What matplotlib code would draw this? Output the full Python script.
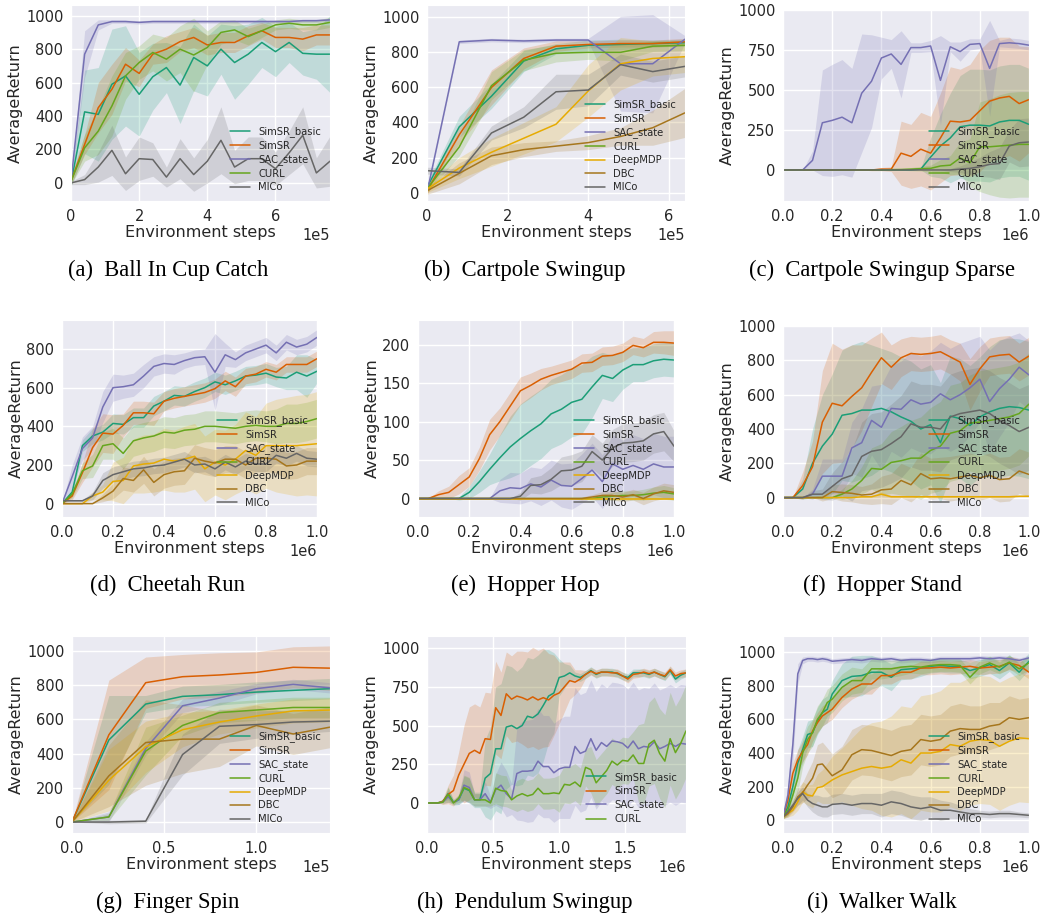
import numpy as np
import matplotlib
matplotlib.use('Agg')
import matplotlib.pyplot as plt
import seaborn as sns

methods = ['SimSR_basic', 'SimSR', 'SAC_state', 'CURL', 'DeepMDP', 'DBC', 'MICo']
palette = ['#1b9e77', '#d95f02', '#7570b3', '#66a61e', '#e6ab02', '#a6761d', '#666666']
colors = dict(zip(methods, palette))

# ---- (a) Ball In Cup Catch, x in 1e5 ----
ball_steps = np.linspace(0, 7.6, 20)
ball_mean = {
    'SimSR_basic': [0, 425, 410, 590, 640, 530, 635, 690, 585, 750, 700, 800, 720, 770, 840, 785, 840, 775, 770, 770],
    'SimSR': [10, 230, 450, 560, 710, 655, 770, 800, 845, 870, 825, 840, 840, 880, 910, 870, 870, 860, 885, 885],
    'SAC_state': [10, 770, 945, 965, 965, 960, 965, 965, 965, 965, 965, 965, 965, 965, 965, 965, 965, 970, 970, 975],
    'CURL': [10, 210, 310, 460, 640, 720, 780, 740, 800, 765, 810, 900, 915, 875, 910, 945, 955, 945, 945, 960],
    'MICo': [0, 20, 95, 195, 55, 145, 140, 35, 145, 50, 130, 255, 95, 145, 145, 85, 180, 285, 60, 130],
}
ball_sd = {
    'SimSR_basic': [20, 250, 280, 330, 300, 250, 200, 150, 230, 200, 180, 150, 220, 180, 150, 150, 120, 130, 150, 230],
    'SimSR': [20, 60, 150, 150, 100, 80, 60, 80, 60, 60, 60, 60, 60, 60, 50, 60, 60, 70, 60, 60],
    'SAC_state': [10, 140, 30, 10, 10, 10, 10, 10, 10, 10, 10, 10, 10, 10, 10, 10, 10, 10, 10, 10],
    'CURL': [20, 80, 140, 180, 140, 100, 110, 130, 140, 220, 100, 70, 60, 50, 40, 30, 30, 30, 30, 30],
    'MICo': [10, 30, 90, 150, 100, 130, 100, 60, 120, 100, 130, 200, 100, 130, 130, 100, 130, 170, 90, 150],
}

# ---- (b) Cartpole Swingup, x in 1e5 ----
cart_steps = np.linspace(0, 6.4, 9)
cart_mean = {
    'SimSR_basic': [30, 375, 550, 750, 820, 840, 845, 850, 855],
    'SimSR': [10, 330, 600, 765, 835, 845, 850, 850, 860],
    'SAC_state': [0, 860, 870, 865, 870, 870, 735, 735, 875],
    'CURL': [20, 260, 610, 755, 795, 800, 800, 835, 840],
    'DeepMDP': [20, 140, 230, 310, 390, 580, 735, 765, 775],
    'DBC': [10, 110, 210, 245, 265, 285, 320, 370, 455],
    'MICo': [125, 115, 340, 430, 575, 585, 730, 690, 720],
}
cart_sd = {
    'SimSR_basic': [20, 60, 70, 60, 30, 30, 30, 20, 20],
    'SimSR': [20, 50, 100, 60, 30, 20, 20, 20, 20],
    'SAC_state': [10, 10, 10, 10, 10, 10, 270, 280, 20],
    'CURL': [20, 50, 80, 60, 50, 40, 50, 30, 30],
    'DeepMDP': [20, 60, 80, 90, 100, 150, 150, 100, 90],
    'DBC': [20, 60, 50, 40, 30, 40, 50, 100, 140],
    'MICo': [20, 20, 40, 60, 100, 90, 60, 60, 60],
}

# ---- (c) Cartpole Swingup Sparse, x in 1e6 ----
sparse_steps = np.linspace(0, 1.0, 26)
sparse_mean = {
    'SimSR_basic': [0, 0, 0, 0, 0, 0, 0, 0, 0, 0, 0, 0, 0, 0, 5, 80, 150, 200, 270, 280, 280, 275, 300, 310, 310, 285],
    'SimSR': [0, 0, 0, 0, 0, 0, 0, 0, 0, 0, 5, 5, 105, 85, 130, 105, 200, 305, 300, 310, 370, 430, 450, 460, 415, 440],
    'SAC_state': [0, 0, 0, 60, 295, 310, 330, 295, 480, 555, 700, 725, 660, 765, 765, 775, 560, 770, 740, 785, 790, 635, 790, 795, 790, 780],
    'CURL': [0, 0, 0, 0, 0, 0, 0, 0, 0, 0, 0, 2, 3, 5, 8, 10, 25, 30, 75, 45, 145, 145, 150, 155, 160, 160],
    'MICo': [0, 0, 0, 0, 0, 0, 0, 0, 0, 0, 0, 0, 0, 0, 0, 0, 0, 0, 5, 10, 20, 35, 40, 150, 170, 175],
}
sparse_sd = {
    'SimSR_basic': [0, 0, 0, 0, 0, 0, 0, 0, 0, 0, 0, 0, 0, 0, 5, 120, 200, 280, 320, 350, 350, 350, 350, 350, 350, 350],
    'SimSR': [0, 0, 0, 0, 0, 0, 0, 0, 0, 5, 10, 15, 200, 200, 230, 230, 280, 340, 330, 350, 380, 380, 380, 370, 360, 330],
    'SAC_state': [0, 0, 0, 60, 330, 350, 360, 340, 370, 290, 130, 90, 210, 30, 30, 35, 280, 30, 60, 35, 30, 300, 20, 30, 30, 30],
    'CURL': [0, 0, 0, 0, 0, 0, 0, 0, 0, 0, 0, 5, 5, 10, 15, 20, 40, 60, 100, 150, 280, 300, 320, 330, 330, 330],
    'MICo': [0, 0, 0, 0, 0, 0, 0, 0, 0, 0, 0, 0, 0, 0, 0, 0, 0, 10, 20, 40, 60, 80, 100, 100, 150, 150],
}

# ---- (d) Cheetah Run, x in 1e6 ----
cheetah_steps = np.linspace(0, 1.0, 26)
cheetah_mean = {
    'SimSR_basic': [0, 60, 300, 350, 370, 415, 410, 445, 445, 505, 530, 560, 555, 580, 600, 630, 615, 635, 660, 665, 675, 655, 650, 680, 660, 685],
    'SimSR': [0, 40, 160, 290, 365, 360, 405, 470, 470, 465, 530, 545, 555, 565, 575, 595, 635, 605, 660, 670, 695, 680, 720, 720, 720, 750],
    'SAC_state': [0, 140, 285, 340, 500, 600, 605, 615, 660, 710, 725, 720, 740, 755, 760, 680, 770, 745, 780, 800, 820, 780, 835, 810, 825, 860],
    'CURL': [0, 50, 170, 195, 300, 310, 260, 325, 340, 350, 370, 365, 380, 385, 400, 400, 395, 390, 400, 405, 400, 400, 415, 415, 425, 440],
    'DeepMDP': [0, 0, 0, 40, 60, 115, 120, 195, 205, 210, 230, 220, 230, 245, 180, 215, 200, 230, 275, 250, 300, 300, 300, 300, 305, 310],
    'DBC': [0, 0, 0, 0, 30, 65, 130, 120, 175, 110, 150, 165, 170, 235, 220, 210, 230, 230, 200, 235, 235, 230, 195, 200, 220, 220],
    'MICo': [15, 15, 15, 40, 120, 150, 165, 180, 185, 195, 200, 215, 230, 200, 205, 180, 215, 190, 220, 205, 205, 250, 235, 260, 235, 230],
}
cheetah_sd = {
    'SimSR_basic': [0, 20, 30, 40, 40, 50, 50, 50, 50, 50, 50, 50, 50, 50, 50, 50, 50, 50, 50, 50, 50, 50, 60, 90, 110, 60],
    'SimSR': [0, 20, 50, 100, 100, 100, 60, 60, 60, 60, 50, 50, 50, 50, 50, 50, 50, 50, 40, 40, 40, 40, 40, 40, 40, 40],
    'SAC_state': [0, 60, 60, 60, 80, 70, 60, 60, 60, 50, 50, 50, 40, 40, 40, 200, 60, 40, 40, 40, 40, 40, 40, 40, 40, 40],
    'CURL': [0, 20, 40, 60, 70, 80, 80, 80, 80, 80, 80, 80, 80, 80, 80, 80, 80, 80, 80, 80, 80, 90, 100, 100, 100, 100],
    'DeepMDP': [0, 0, 0, 20, 40, 100, 120, 140, 150, 150, 160, 160, 170, 170, 170, 170, 180, 180, 200, 200, 220, 240, 250, 260, 260, 270],
    'DBC': [0, 0, 0, 0, 20, 40, 60, 60, 70, 70, 70, 70, 70, 70, 70, 70, 70, 70, 70, 70, 70, 70, 70, 70, 70, 70],
    'MICo': [5, 5, 5, 20, 40, 40, 40, 40, 40, 40, 40, 40, 40, 40, 40, 40, 40, 40, 40, 40, 40, 40, 40, 40, 40, 40],
}

# ---- (e) Hopper Hop, x in 1e6 ----
hop_steps = np.linspace(0, 1.0, 26)
hop_mean = {
    'SimSR_basic': [0, 0, 0, 0, 0, 8, 22, 38, 53, 67, 78, 88, 97, 110, 116, 125, 129, 145, 160, 156, 167, 174, 174, 179, 181, 180],
    'SimSR': [0, 0, 5, 8, 18, 28, 52, 83, 100, 120, 140, 147, 155, 160, 164, 168, 176, 177, 185, 186, 190, 199, 196, 203, 203, 202],
    'SAC_state': [0, 0, 0, 0, 0, 0, 0, 0, 10, 14, 13, 19, 15, 24, 17, 16, 26, 37, 22, 45, 38, 43, 38, 45, 41, 41],
    'CURL': [0, 0, 0, 0, 0, 0, 0, 0, 0, 0, 0, 0, 0, 0, 0, 0, 0, 0, 2, 3, 4, 4, 5, 7, 8, 6],
    'DeepMDP': [0, 0, 0, 0, 0, 0, 0, 0, 0, 0, 0, 0, 0, 0, 0, 0, 0, 0, 0, 0, 0, 0, 0, 0, 0, 0],
    'DBC': [0, 0, 0, 0, 0, 0, 0, 0, 0, 0, 0, 0, 0, 0, 0, 0, 0, 2, 4, 4, 2, 5, 0, 6, 10, 8],
    'MICo': [0, 0, 0, 0, 0, 0, 0, 0, 0, 0, 3, 17, 18, 25, 36, 37, 42, 61, 50, 66, 72, 73, 75, 84, 87, 68],
}
hop_sd = {
    'SimSR_basic': [0, 0, 0, 0, 2, 8, 14, 20, 30, 40, 45, 45, 45, 45, 45, 45, 45, 40, 30, 30, 25, 22, 22, 22, 22, 22],
    'SimSR': [0, 0, 5, 8, 12, 12, 15, 20, 18, 18, 18, 16, 14, 12, 12, 12, 12, 12, 12, 12, 12, 12, 12, 14, 15, 16],
    'SAC_state': [0, 0, 0, 0, 0, 0, 0, 0, 15, 20, 20, 22, 24, 26, 28, 30, 32, 35, 35, 38, 38, 40, 40, 40, 40, 40],
    'CURL': [0, 0, 0, 0, 0, 0, 0, 0, 0, 0, 0, 0, 0, 0, 0, 0, 1, 2, 4, 5, 6, 6, 7, 8, 9, 8],
    'DeepMDP': [0, 0, 0, 0, 0, 0, 0, 0, 0, 0, 0, 0, 0, 0, 0, 0, 0, 0, 0, 0, 1, 1, 1, 1, 1, 1],
    'DBC': [0, 0, 0, 0, 0, 0, 0, 0, 0, 0, 0, 0, 0, 0, 0, 0, 2, 3, 5, 6, 6, 7, 8, 9, 10, 10],
    'MICo': [0, 0, 0, 0, 0, 0, 0, 0, 0, 0, 5, 10, 12, 15, 18, 20, 20, 22, 22, 24, 25, 25, 25, 25, 25, 20],
}

# ---- (f) Hopper Stand, x in 1e6 ----
stand_steps = np.linspace(0, 1.0, 26)
stand_mean = {
    'SimSR_basic': [0, 0, 50, 200, 300, 370, 480, 490, 510, 510, 520, 500, 470, 445, 400, 425, 320, 475, 460, 420, 470, 500, 520, 530, 525, 510],
    'SimSR': [0, 0, 70, 180, 440, 550, 535, 590, 640, 730, 815, 760, 815, 840, 835, 840, 850, 820, 790, 660, 750, 820, 830, 835, 790, 825],
    'SAC_state': [0, 0, 0, 20, 125, 125, 125, 290, 320, 450, 410, 520, 515, 570, 545, 555, 605, 570, 600, 640, 690, 560, 635, 690, 760, 715],
    'CURL': [0, 0, 0, 0, 0, 0, 20, 50, 100, 170, 165, 205, 215, 230, 230, 275, 300, 375, 390, 435, 440, 450, 460, 470, 490, 545],
    'DeepMDP': [0, 0, 0, 0, 0, 0, 0, 0, 5, 5, 20, 5, 5, 5, 5, 5, 5, 5, 5, 5, 5, 5, 5, 5, 8, 8],
    'DBC': [0, 0, 0, 0, 0, 35, 30, 25, 15, 20, 45, 50, 100, 75, 140, 110, 115, 110, 120, 130, 115, 130, 105, 110, 155, 135],
    'MICo': [0, 0, 0, 20, 20, 65, 110, 130, 240, 270, 280, 315, 355, 430, 410, 410, 400, 470, 490, 500, 510, 490, 450, 420, 385, 410],
}
stand_sd = {
    'SimSR_basic': [0, 0, 60, 200, 300, 350, 380, 400, 400, 380, 350, 350, 350, 350, 350, 350, 350, 350, 350, 350, 350, 380, 400, 400, 400, 400],
    'SimSR': [0, 0, 80, 150, 300, 350, 330, 300, 250, 200, 150, 130, 110, 100, 100, 100, 100, 100, 110, 150, 130, 110, 110, 110, 110, 110],
    'SAC_state': [0, 0, 0, 30, 100, 100, 100, 150, 200, 200, 250, 250, 280, 280, 280, 300, 300, 300, 300, 280, 250, 300, 280, 250, 200, 200],
    'CURL': [0, 0, 0, 0, 0, 0, 30, 50, 80, 120, 150, 180, 200, 220, 240, 250, 260, 280, 280, 280, 300, 300, 300, 300, 300, 300],
    'DeepMDP': [0, 0, 0, 0, 0, 0, 0, 0, 5, 5, 15, 5, 5, 5, 5, 5, 5, 5, 5, 5, 5, 5, 5, 5, 5, 5],
    'DBC': [0, 0, 0, 0, 20, 40, 50, 50, 50, 60, 80, 90, 100, 100, 120, 120, 120, 130, 130, 130, 130, 130, 130, 130, 130, 130],
    'MICo': [0, 0, 0, 20, 30, 80, 100, 150, 200, 220, 220, 230, 240, 250, 250, 250, 250, 250, 250, 250, 250, 250, 250, 250, 250, 250],
}

# ---- (g) Finger Spin, x in 1e5 ----
finger_steps = np.linspace(0, 1.4, 8)
finger_mean = {
    'SimSR_basic': [0, 480, 690, 735, 745, 760, 770, 780],
    'SimSR': [0, 510, 815, 850, 860, 875, 905, 900],
    'SAC_state': [0, 30, 430, 680, 725, 780, 805, 785],
    'CURL': [0, 30, 415, 565, 640, 655, 670, 670],
    'DeepMDP': [0, 245, 440, 540, 585, 620, 650, 655],
    'DBC': [0, 270, 465, 485, 485, 565, 515, 555],
    'MICo': [0, 0, 5, 395, 560, 570, 585, 590],
}
finger_sd = {
    'SimSR_basic': [0, 260, 50, 60, 60, 60, 60, 60],
    'SimSR': [0, 320, 150, 130, 130, 120, 120, 130],
    'SAC_state': [0, 30, 40, 40, 40, 30, 30, 30],
    'CURL': [0, 20, 140, 60, 60, 60, 60, 60],
    'DeepMDP': [0, 180, 150, 100, 70, 70, 70, 70],
    'DBC': [0, 180, 250, 200, 160, 120, 120, 120],
    'MICo': [0, 10, 10, 120, 100, 80, 70, 60],
}

# ---- (h) Pendulum Swingup, x in 1e6 ----
pend_steps = np.linspace(0, 1.96, 50)
pend_mean = {
    'SimSR_basic': [0, 0, 0, 10, 60, 5, 20, 95, 80, 20, 20, 160, 190, 350, 350, 490, 500, 480, 500, 560,
                    550, 575, 630, 690, 710, 810, 820, 840, 820, 810, 830, 855, 830, 845, 845, 845, 835, 820, 810, 840,
                    840, 840, 830, 845, 830, 815, 855, 800, 825, 840],
    'SimSR': [0, 0, 0, 10, 55, 80, 180, 250, 320, 340, 320, 415, 410, 615, 565, 705, 670, 690, 680, 665,
              685, 665, 680, 665, 695, 710, 750, 790, 780, 800, 830, 850, 835, 845, 845, 840, 840, 820, 800, 830,
              835, 845, 835, 845, 830, 820, 860, 820, 835, 840],
    'SAC_state': [0, 0, 0, 5, 40, 5, 20, 115, 100, 20, 20, 60, 5, 85, 115, 60, 25, 190, 205, 205,
                  210, 270, 235, 235, 195, 220, 230, 230, 365, 320, 335, 415, 340, 390, 365, 400, 395, 385, 355, 400,
                  350, 365, 360, 395, 350, 365, 385, 365, 385, 380],
    'CURL': [0, 0, 0, 5, 55, 0, 30, 100, 85, 20, 20, 20, 0, 95, 80, 75, 20, 45, 60, 45,
             55, 95, 60, 60, 65, 60, 120, 115, 135, 105, 230, 215, 130, 170, 210, 270, 245, 275, 270, 310,
             255, 255, 380, 405, 320, 270, 415, 325, 385, 465],
}
pend_sd = {
    'SimSR_basic': [0, 0, 0, 0, 40, 20, 30, 80, 80, 50, 50, 250, 300, 400, 420, 400, 380, 370, 380, 380,
                    380, 380, 360, 300, 260, 120, 80, 50, 25, 25, 25, 25, 25, 25, 25, 25, 25, 25, 25, 25,
                    25, 25, 25, 25, 25, 25, 25, 25, 25, 25],
    'SimSR': [0, 0, 0, 20, 60, 100, 150, 250, 300, 300, 300, 300, 300, 300, 280, 270, 280, 290, 300, 310,
              320, 320, 320, 300, 260, 200, 160, 120, 80, 60, 25, 25, 25, 25, 25, 25, 25, 25, 25, 25,
              25, 25, 25, 25, 25, 25, 25, 25, 25, 25],
    'SAC_state': [0, 0, 0, 10, 40, 10, 30, 100, 100, 40, 40, 80, 40, 100, 150, 150, 100, 300, 320, 330,
                  330, 340, 330, 330, 320, 320, 330, 330, 380, 380, 380, 380, 380, 380, 380, 380, 380, 380, 380, 380,
                  380, 380, 380, 380, 380, 380, 380, 380, 380, 380],
    'CURL': [0, 0, 0, 10, 50, 10, 30, 80, 80, 40, 40, 40, 20, 100, 100, 100, 60, 100, 100, 100,
             100, 100, 100, 100, 100, 120, 120, 120, 120, 120, 120, 150, 150, 150, 150, 150, 150, 150, 150, 150,
             250, 260, 270, 280, 290, 300, 300, 300, 300, 300],
}

# ---- (i) Walker Walk, x in 1e6 ----
walker_steps = [0, 0.02, 0.04, 0.06, 0.08, 0.10, 0.12, 0.14, 0.16, 0.18, 0.20,
                0.24, 0.28, 0.32, 0.36, 0.40, 0.44, 0.48, 0.52, 0.56, 0.60,
                0.64, 0.68, 0.72, 0.76, 0.80, 0.84, 0.88, 0.92, 0.96, 1.00]
walker_mean = {
    'SimSR_basic': [20, 80, 200, 340, 420, 510, 520, 590, 640, 660, 750, 830, 855, 860, 880, 880, 850, 895, 900, 905, 915,
                    920, 915, 915, 890, 905, 925, 890, 935, 880, 945],
    'SimSR': [20, 120, 280, 360, 410, 450, 530, 580, 620, 640, 660, 730, 780, 810, 810, 860, 860, 880, 880, 905, 905,
              910, 905, 910, 915, 905, 910, 915, 935, 920, 880],
    'SAC_state': [20, 150, 450, 870, 950, 960, 960, 955, 960, 955, 945, 950, 955, 950, 960, 955, 960, 950, 955, 955, 950,
                  960, 960, 960, 960, 965, 960, 965, 960, 950, 965],
    'CURL': [20, 60, 150, 250, 400, 480, 520, 600, 640, 700, 720, 790, 830, 830, 900, 900, 900, 910, 915, 910, 920,
             925, 925, 920, 850, 910, 935, 910, 940, 900, 935],
    'DeepMDP': [20, 40, 60, 110, 170, 150, 145, 195, 200, 220, 240, 270, 290, 310, 320, 310, 320, 360, 340, 400, 400,
                410, 450, 440, 470, 480, 475, 440, 470, 490, 485],
    'DBC': [20, 40, 80, 140, 165, 210, 250, 330, 335, 300, 265, 300, 390, 420, 415, 400, 385, 410, 420, 480, 470,
            480, 530, 545, 540, 540, 560, 570, 610, 600, 610],
    'MICo': [20, 50, 90, 130, 160, 120, 100, 90, 80, 80, 95, 100, 90, 100, 100, 90, 110, 100, 80, 70, 80,
             60, 60, 50, 40, 40, 35, 40, 40, 35, 30],
}
walker_sd = {
    'SimSR_basic': [10, 40, 60, 80, 80, 80, 80, 80, 80, 80, 80, 100, 120, 120, 100, 80, 80, 60, 60, 50, 40,
                    40, 40, 40, 50, 50, 50, 50, 50, 50, 50],
    'SimSR': [10, 40, 60, 60, 60, 60, 60, 60, 60, 60, 60, 60, 60, 60, 60, 50, 50, 40, 40, 40, 40,
              40, 40, 40, 40, 40, 40, 40, 40, 40, 40],
    'SAC_state': [10, 60, 100, 60, 20, 15, 15, 15, 15, 15, 15, 15, 15, 15, 15, 15, 15, 15, 15, 15, 15,
                  15, 15, 15, 15, 15, 15, 15, 15, 15, 15],
    'CURL': [10, 30, 60, 80, 80, 80, 80, 80, 80, 80, 80, 80, 80, 70, 60, 60, 50, 50, 40, 40, 40,
             40, 40, 40, 40, 40, 40, 40, 40, 40, 40],
    'DeepMDP': [10, 20, 30, 50, 60, 60, 70, 80, 100, 120, 140, 160, 200, 240, 260, 280, 300, 320, 330, 340, 350,
                360, 370, 380, 380, 380, 380, 380, 380, 380, 380],
    'DBC': [10, 20, 30, 50, 60, 80, 100, 120, 130, 130, 130, 140, 150, 150, 150, 150, 150, 150, 150, 150, 150,
            150, 150, 150, 140, 140, 140, 130, 130, 120, 120],
    'MICo': [10, 20, 30, 40, 40, 40, 50, 60, 60, 60, 60, 60, 60, 60, 60, 70, 70, 70, 70, 70, 60,
             60, 50, 40, 30, 20, 20, 20, 20, 15, 15],
}

captions = ['(a)  Ball In Cup Catch', '(b)  Cartpole Swingup', '(c)  Cartpole Swingup Sparse',
            '(d)  Cheetah Run', '(e)  Hopper Hop', '(f)  Hopper Stand',
            '(g)  Finger Spin', '(h)  Pendulum Swingup', '(i)  Walker Walk']

panels = [
    (ball_steps, 1e5, ball_mean, ball_sd, [0, 2, 4, 6], [0, 200, 400, 600, 800, 1000], (-108, 1064)),
    (cart_steps, 1e5, cart_mean, cart_sd, [0, 2, 4, 6], [0, 200, 400, 600, 800, 1000], (-48, 1070)),
    (sparse_steps, 1e6, sparse_mean, sparse_sd, [0, .2, .4, .6, .8, 1.0], [0, 250, 500, 750, 1000], (-194, 1000)),
    (cheetah_steps, 1e6, cheetah_mean, cheetah_sd, [0, .2, .4, .6, .8, 1.0], [0, 200, 400, 600, 800], (-69, 950)),
    (hop_steps, 1e6, hop_mean, hop_sd, [0, .2, .4, .6, .8, 1.0], [0, 50, 100, 150, 200], (-24, 232)),
    (stand_steps, 1e6, stand_mean, stand_sd, [0, .2, .4, .6, .8, 1.0], [0, 200, 400, 600, 800, 1000], (-113, 1006)),
    (finger_steps, 1e5, finger_mean, finger_sd, [0, .5, 1.0], [0, 200, 400, 600, 800, 1000], (-64, 1088)),
    (pend_steps, 1e6, pend_mean, pend_sd, [0, .5, 1.0, 1.5], [0, 250, 500, 750, 1000], (-194, 1078)),
    (walker_steps, 1e6, walker_mean, walker_sd, [0, .2, .4, .6, .8, 1.0], [0, 200, 400, 600, 800, 1000], (-75, 1095)),
]

# axes boxes in pixels: left, top, right, bottom
W, H = 1043, 917
boxes = [(71, 5, 330, 201), (427, 5, 685, 201), (783, 10, 1029, 201),
         (62, 320, 317, 517), (418, 320, 674, 517), (783, 325, 1029, 517),
         (72, 636, 330, 833), (427, 636, 686, 833), (783, 636, 1029, 833)]
cap_x = [168, 525, 882]
cap_y = [270, 585, 902]

sns.set_style('darkgrid')
plt.rcParams['font.family'] = ['DejaVu Sans']
plt.rcParams['grid.linewidth'] = 1.0

fig = plt.figure(figsize=(W / 100, H / 100), dpi=100)

for k, (steps, scale, mean, sd, xt, yt, ylim) in enumerate(panels):
    l, t, r, b = boxes[k]
    ax = fig.add_axes([l / W, 1 - b / H, (r - l) / W, (b - t) / H])
    x = np.asarray(steps) * scale
    for m in mean:
        mu = np.asarray(mean[m], dtype=float)
        s = np.asarray(sd[m], dtype=float)
        ax.fill_between(x, mu - s, mu + s, color=colors[m], alpha=0.2, lw=0)
        ax.plot(x, mu, color=colors[m], lw=1.1, label=m)
    ax.set_xlim(0, x[-1])
    ax.set_ylim(*ylim)
    ax.set_xticks(np.asarray(xt) * scale)
    ax.set_yticks(yt)
    ax.ticklabel_format(style='sci', axis='x', scilimits=(0, 0))
    ax.tick_params(labelsize=10.5, pad=2)
    ax.xaxis.get_offset_text().set_fontsize(10.5)
    ax.set_xlabel('Environment steps', fontsize=11.5, labelpad=1)
    ax.set_ylabel('AverageReturn', fontsize=11.5, labelpad=2)
    ax.legend(loc='lower right', frameon=False, fontsize=7.2, labelspacing=0.35)
    fig.text(cap_x[k % 3] / W, 1 - cap_y[k // 3] / H, captions[k], ha='center', va='center',
             fontsize=16.3, family='Liberation Serif', color='black')

fig.savefig('out.png', dpi=100)
